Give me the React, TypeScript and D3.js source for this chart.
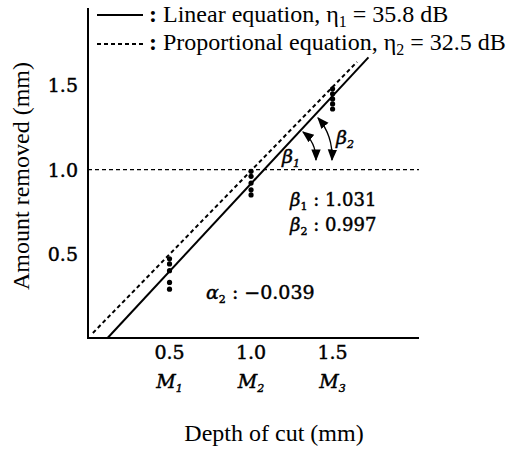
import React from 'react';
import * as d3 from 'd3';

// measured depth values (mm) and amounts removed at each depth
const depths = [0.5, 1.0, 1.5];
const depthLabels = ['0.5', '1.0', '1.5'];
const levelNames = ['M', 'M', 'M'];
const levelSubs = ['1', '2', '3'];
const removedAt05 = [0.47, 0.44, 0.4, 0.33, 0.29];
const removedAt10 = [0.99, 0.96, 0.92, 0.88, 0.85];
const removedAt15 = [1.48, 1.45, 1.42, 1.39, 1.36];

const yTicks = [0.5, 1.0, 1.5];

// fitted lines (ends)
const linearX = [0.12, 1.72];
const linearY = [0, 1.667];
const propX = [0.03, 1.65];
const propY = [0.03, 1.64];

const serif = '"Liberation Serif", "Times New Roman", serif';
const numFont = '"DejaVu Serif", serif';

// slightly heavier look for the numeric labels
const heavy = { stroke: '#000', strokeWidth: 0.45 };

export default function App() {
  const width = 521, height = 449;
  const x = d3.scaleLinear().domain([0, 2.03]).range([88, 419]);
  const y = d3.scaleLinear().domain([0, 1.96]).range([338, 8]);

  const line = d3.line<[number, number]>().x(d => x(d[0])).y(d => y(d[1]));
  const linearPts: [number, number][] = linearX.map((v, i) => [v, linearY[i]]);
  const propPts: [number, number][] = propX.map((v, i) => [v, propY[i]]);

  const groups = [removedAt05, removedAt10, removedAt15];

  return (
    <svg width={width} height={height} style={{ position: 'absolute', left: 0, top: 0, background: '#fff' }}>
      <defs>
        <marker id="ah" viewBox="0 0 10 10" refX="9" refY="5" markerWidth="9" markerHeight="9" orient="auto-start-reverse">
          <path d="M0,1 L10,5 L0,9 Z" fill="#000" />
        </marker>
      </defs>

      {/* legend */}
      <line x1={97} x2={143} y1={15} y2={15} stroke="#000" strokeWidth={2} />
      <text x={149} y={22} fontFamily={serif} fontSize={24}>
        <tspan fontWeight="bold">:</tspan> Linear equation,  η<tspan fontSize={16} dy={5}>1</tspan><tspan dy={-5}> = 35.8 dB</tspan>
      </text>
      <line x1={97} x2={143} y1={44} y2={44} stroke="#000" strokeWidth={2} strokeDasharray="4,3" />
      <text x={149} y={50} fontFamily={serif} fontSize={24}>
        <tspan fontWeight="bold">:</tspan> Proportional equation,  η<tspan fontSize={16} dy={5}>2</tspan><tspan dy={-5}> = 32.5 dB</tspan>
      </text>

      {/* axes */}
      <path d={`M${x(0)},${y(1.96)}V${y(0)}H${x(2.03)}`} fill="none" stroke="#000" strokeWidth={2} />

      {/* y tick labels */}
      {yTicks.map(t => (
        <text key={t} x={x(0) - 10} y={y(t) + 7} textAnchor="end" fontFamily={numFont} fontSize={19} {...heavy}>
          {t.toFixed(1)}
        </text>
      ))}

      {/* x tick labels */}
      {depths.map((d, i) => (
        <g key={d}>
          <text x={x(d)} y={359} textAnchor="middle" fontFamily={numFont} fontSize={19} {...heavy}>{depthLabels[i]}</text>
          <text x={x(d)} y={388} textAnchor="middle" fontFamily={numFont} fontSize={19} fontStyle="italic" {...heavy}>
            {levelNames[i]}<tspan fontSize={11} dy={4}>{levelSubs[i]}</tspan>
          </text>
        </g>
      ))}

      {/* axis titles */}
      <text x={274} y={441} textAnchor="middle" fontFamily={serif} fontSize={24}>Depth of cut  (mm)</text>
      <text transform={`translate(29,176) rotate(-90)`} textAnchor="middle" fontFamily={serif} fontSize={24}>
        Amount removed  (mm)
      </text>

      {/* reference line at 1.0 */}
      <line x1={x(0)} x2={x(2.03)} y1={y(1)} y2={y(1)} stroke="#000" strokeWidth={1.3} strokeDasharray="4,3" />

      {/* fitted lines */}
      <path d={line(propPts) || ''} fill="none" stroke="#000" strokeWidth={2} strokeDasharray="4,3" />
      <path d={line(linearPts) || ''} fill="none" stroke="#000" strokeWidth={2} />

      {/* data points */}
      {groups.map((vals, gi) =>
        vals.map((v, j) => (
          <circle key={`${gi}-${j}`} cx={x(depths[gi])} cy={y(v)} r={2.6} fill="#000" />
        ))
      )}

      {/* angle arrows */}
      <path d="M303,132 Q316,142 316,160" fill="none" stroke="#000" strokeWidth={1.3} markerStart="url(#ah)" markerEnd="url(#ah)" />
      <path d="M318,118 Q333,135 332,160" fill="none" stroke="#000" strokeWidth={1.3} markerStart="url(#ah)" markerEnd="url(#ah)" />
      <text x={282} y={163} fontFamily={numFont} fontSize={19} fontStyle="italic" {...heavy}>
        β<tspan fontSize={11} dy={4}>1</tspan>
      </text>
      <text x={336} y={144} fontFamily={numFont} fontSize={19} fontStyle="italic" {...heavy}>
        β<tspan fontSize={11} dy={4}>2</tspan>
      </text>

      {/* coefficient annotations */}
      <text x={290} y={206} fontFamily={numFont} fontSize={18} {...heavy}>
        <tspan fontStyle="italic">β</tspan><tspan fontSize={11} dy={4}>1</tspan><tspan dy={-4}> : 1.031</tspan>
      </text>
      <text x={290} y={231} fontFamily={numFont} fontSize={18} {...heavy}>
        <tspan fontStyle="italic">β</tspan><tspan fontSize={11} dy={4}>2</tspan><tspan dy={-4}> : 0.997</tspan>
      </text>
      <text x={206} y={299} fontFamily={numFont} fontSize={19} {...heavy}>
        <tspan fontStyle="italic">α</tspan><tspan fontSize={11} dy={4}>2</tspan><tspan dy={-4}> : −0.039</tspan>
      </text>
    </svg>
  );
}
